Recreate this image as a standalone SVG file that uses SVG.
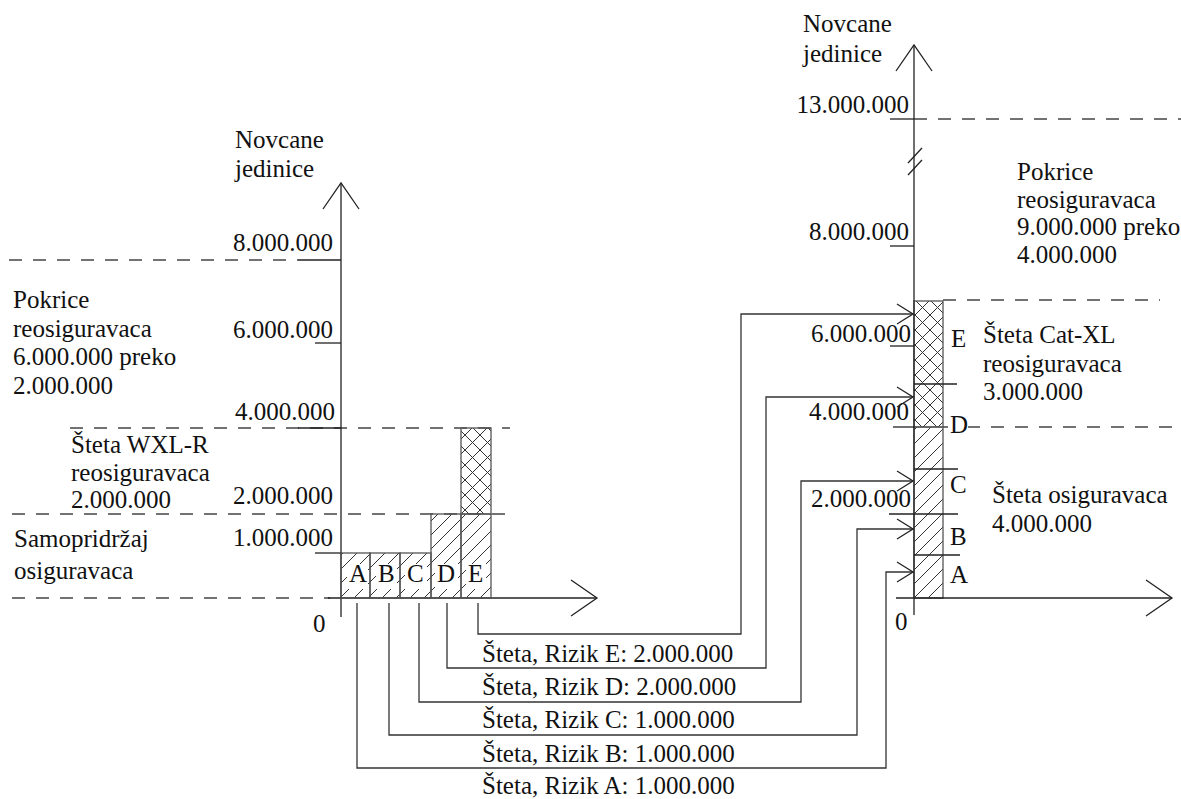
<svg xmlns="http://www.w3.org/2000/svg" width="1181" height="799" viewBox="0 0 1181 799">
<style>
text{font-family:'Liberation Serif',serif;font-size:25px;fill:#111}
.end{text-anchor:end}
.ln{stroke:#222;stroke-width:1.3;fill:none}
.dash{stroke:#444;stroke-width:1.3;stroke-dasharray:13 11;fill:none}
.bar{stroke:#555;stroke-width:1.3}
.con{stroke:#333;stroke-width:1.3;fill:none;marker-end:url(#arr)}
</style>
<defs>
<pattern id="diag" patternUnits="userSpaceOnUse" width="14" height="14">
<path d="M0,14 L14,0 M-7,7 L7,-7 M7,21 L21,7" stroke="#333" stroke-width="1"/>
</pattern>
<pattern id="cross" patternUnits="userSpaceOnUse" width="15" height="15">
<path d="M0,15 L15,0 M-7.5,7.5 L7.5,-7.5 M7.5,22.5 L22.5,7.5 M0,0 L15,15 M-7.5,7.5 L7.5,22.5 M7.5,-7.5 L22.5,7.5" stroke="#333" stroke-width="1"/>
</pattern>
<marker id="arr" markerUnits="userSpaceOnUse" viewBox="0 0 20 24" markerWidth="20" markerHeight="24" refX="18" refY="12" orient="auto">
<path d="M2,2 L18,12 L2,22" fill="none" stroke="#222" stroke-width="1.3"/>
</marker>
<marker id="axarr" markerUnits="userSpaceOnUse" viewBox="0 0 30 40" markerWidth="30" markerHeight="40" refX="28" refY="20" orient="auto">
<path d="M2,2 L28,20 L2,38" fill="none" stroke="#222" stroke-width="1.3"/>
</marker>
</defs>

<g font-family="Liberation Serif, serif">
<g id="left-chart">
<line class="dash" x1="9" y1="260" x2="298" y2="260"/>
<line class="dash" x1="70" y1="428" x2="510" y2="428"/>
<line class="dash" x1="12" y1="514" x2="510" y2="514"/>
<line class="dash" x1="12" y1="598" x2="330" y2="598"/>
<line class="ln" x1="341" y1="617" x2="341" y2="183" marker-end="url(#axarr)"/>
<line class="ln" x1="328" y1="598" x2="597" y2="598" marker-end="url(#axarr)"/>
<line class="ln" x1="298" y1="260" x2="341" y2="260"/>
<line class="ln" x1="315" y1="343" x2="341" y2="343"/>
<line class="ln" x1="298" y1="428" x2="341" y2="428"/>
<line class="ln" x1="315" y1="553" x2="341" y2="553"/>
<text x="235" y="148">Novcane</text>
<text x="235" y="177">jedinice</text>
<text class="end" x="333" y="251">8.000.000</text>
<text class="end" x="333" y="338">6.000.000</text>
<text class="end" x="335" y="420">4.000.000</text>
<text class="end" x="333" y="504">2.000.000</text>
<text class="end" x="333" y="546">1.000.000</text>
<text x="313" y="632">0</text>
<text x="13" y="308">Pokrice</text>
<text x="13" y="337">reosiguravaca</text>
<text x="13" y="365">6.000.000 preko</text>
<text x="13" y="394">2.000.000</text>
<text x="71" y="453">Šteta WXL-R</text>
<text x="71" y="481">reosiguravaca</text>
<text x="71" y="508">2.000.000</text>
<text x="14" y="547">Samopridržaj</text>
<text x="14" y="579">osiguravaca</text>
</g>

<g id="bar-A"><rect class="bar" x="341" y="553" width="29" height="45" fill="url(#diag)"/><rect x="347" y="564" width="21" height="25" fill="#fff"/><text x="349" y="582">A</text></g>
<g id="bar-B"><rect class="bar" x="370" y="553" width="30" height="45" fill="url(#diag)"/><rect x="376" y="564" width="21" height="25" fill="#fff"/><text x="378" y="582">B</text></g>
<g id="bar-C"><rect class="bar" x="400" y="553" width="31" height="45" fill="url(#diag)"/><rect x="405" y="564" width="22" height="25" fill="#fff"/><text x="407" y="582">C</text></g>
<g id="bar-D"><rect class="bar" x="431" y="514" width="30" height="84" fill="url(#diag)"/><rect x="435" y="564" width="23" height="25" fill="#fff"/><text x="437" y="582">D</text></g>
<g id="bar-E"><rect class="bar" x="461" y="514" width="30" height="84" fill="url(#diag)"/><rect class="bar" x="461" y="428" width="30" height="86" fill="url(#cross)"/><rect x="466" y="564" width="20" height="25" fill="#fff"/><text x="468" y="582">E</text></g>

<g id="right-chart">
<line class="dash" x1="914" y1="119" x2="1181" y2="119"/>
<line class="dash" x1="943" y1="300" x2="1160" y2="300"/>
<line class="dash" x1="943" y1="427" x2="1181" y2="427"/>
<rect class="bar" x="914" y="427" width="29" height="171" fill="url(#diag)"/>
<rect class="bar" x="914" y="301" width="29" height="126" fill="url(#cross)"/>
<line class="ln" x1="914" y1="615" x2="914" y2="45" marker-end="url(#axarr)"/>
<line class="ln" x1="896" y1="598" x2="1172" y2="598" marker-end="url(#axarr)"/>
<line class="ln" x1="908" y1="163" x2="922" y2="148"/>
<line class="ln" x1="908" y1="175" x2="922" y2="160"/>
<line class="ln" x1="890" y1="119" x2="914" y2="119"/>
<line class="ln" x1="890" y1="246" x2="914" y2="246"/>
<line class="ln" x1="890" y1="346" x2="914" y2="346"/>
<line class="ln" x1="893" y1="427" x2="914" y2="427"/>
<line class="ln" x1="914" y1="384" x2="957" y2="384"/>
<line class="ln" x1="914" y1="469" x2="958" y2="469"/>
<line class="ln" x1="889" y1="514" x2="958" y2="514"/>
<line class="ln" x1="914" y1="555" x2="960" y2="555"/>
<text x="803" y="32">Novcane</text>
<text x="803" y="62">jedinice</text>
<text class="end" x="909" y="113">13.000.000</text>
<text class="end" x="909" y="240">8.000.000</text>
<text class="end" x="911" y="342">6.000.000</text>
<text class="end" x="909" y="420">4.000.000</text>
<text class="end" x="911" y="507">2.000.000</text>
<text x="895" y="630">0</text>
<text x="1017" y="180">Pokrice</text>
<text x="1017" y="208">reosiguravaca</text>
<text x="1017" y="235">9.000.000 preko</text>
<text x="1017" y="263">4.000.000</text>
<text x="951" y="347">E</text>
<rect x="948" y="414" width="20" height="22" fill="#fff"/>
<text x="950" y="433">D</text>
<text x="950" y="493">C</text>
<text x="950" y="545">B</text>
<text x="950" y="583">A</text>
<text x="983" y="343">Šteta Cat-XL</text>
<text x="983" y="372">reosiguravaca</text>
<text x="983" y="400">3.000.000</text>
<text x="992" y="503">Šteta osiguravaca</text>
<text x="992" y="532">4.000.000</text>
</g>

<g id="connectors">
<path class="con" d="M478,603 V634 H741 V314 H913"/>
<path class="con" d="M447,603 V668 H766 V397 H913"/>
<path class="con" d="M419,603 V702 H801 V481 H913"/>
<path class="con" d="M389,603 V735 H857 V529 H913"/>
<path class="con" d="M357,603 V768 H886 V572 H913"/>
</g>

<g id="loss-labels">
<text x="482" y="662">Šteta, Rizik E: 2.000.000</text>
<text x="482" y="695">Šteta, Rizik D: 2.000.000</text>
<text x="482" y="728">Šteta, Rizik C: 1.000.000</text>
<text x="482" y="762">Šteta, Rizik B: 1.000.000</text>
<text x="482" y="794">Šteta, Rizik A: 1.000.000</text>
</g>
</g>
</svg>
